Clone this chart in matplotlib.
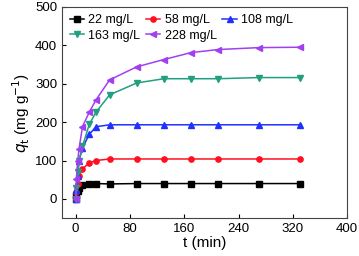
import matplotlib
matplotlib.use("Agg")
import matplotlib.pyplot as plt

# contact time (min)
t = [0, 1, 3, 5, 10, 20, 30, 50, 90, 130, 170, 210, 270, 330]

# adsorbed amount q_t (mg/g) for each initial concentration
q22 = [0, 10, 20, 28, 37, 40, 40, 39, 40, 40, 40, 40, 40, 40]
q58 = [0, 18, 40, 60, 78, 94, 100, 104, 104, 104, 104, 104, 104, 104]
q108 = [0, 22, 60, 100, 133, 168, 188, 193, 193, 193, 193, 193, 193, 193]
q163 = [0, 28, 70, 100, 137, 194, 226, 271, 302, 313, 313, 313, 316, 316]
q228 = [0, 53, 100, 131, 188, 226, 258, 310, 344, 363, 381, 389, 394, 395]

labels = ["22 mg/L", "58 mg/L", "108 mg/L", "163 mg/L", "228 mg/L"]
colors = ["#000000", "#ff1020", "#2030ff", "#20a080", "#a040f0"]
markers = ["s", "o", "^", "v", "<"]

plt.rcParams["font.family"] = ["Liberation Sans", "DejaVu Sans"]

fig = plt.figure(figsize=(3.59, 2.56), dpi=100)
ax = fig.add_axes([0.173, 0.148, 0.794, 0.825])

lines = []
for q, lab, c, m in zip([q22, q58, q108, q163, q228], labels, colors, markers):
    ln, = ax.plot(t, q, color=c, marker=m, markersize=3.8, linewidth=1.1, label=lab)
    lines.append(ln)

ax.set_xlim(-20, 400)
ax.set_ylim(-50, 500)
ax.set_xticks([0, 80, 160, 240, 320, 400])
ax.set_yticks([0, 100, 200, 300, 400, 500])
ax.tick_params(direction="in", labelsize=9.5, length=3)
for s in ax.spines.values():
    s.set_color("#444444")
    s.set_linewidth(0.8)

ax.set_xlabel("t (min)", fontsize=11, labelpad=1)
ax.set_ylabel(r"$q_{\rm t}$ (mg g$^{-1}$)", fontsize=11, labelpad=2)

# legend fills by column, so reorder to read row by row
order = [0, 3, 1, 4, 2]
ax.legend([lines[i] for i in order], [labels[i] for i in order],
          loc="upper left", ncol=3, frameon=False, fontsize=9,
          handlelength=1.15, handletextpad=0.35, columnspacing=0.45,
          borderaxespad=0.2, labelspacing=0.25)

fig.savefig("out.png", dpi=100)
